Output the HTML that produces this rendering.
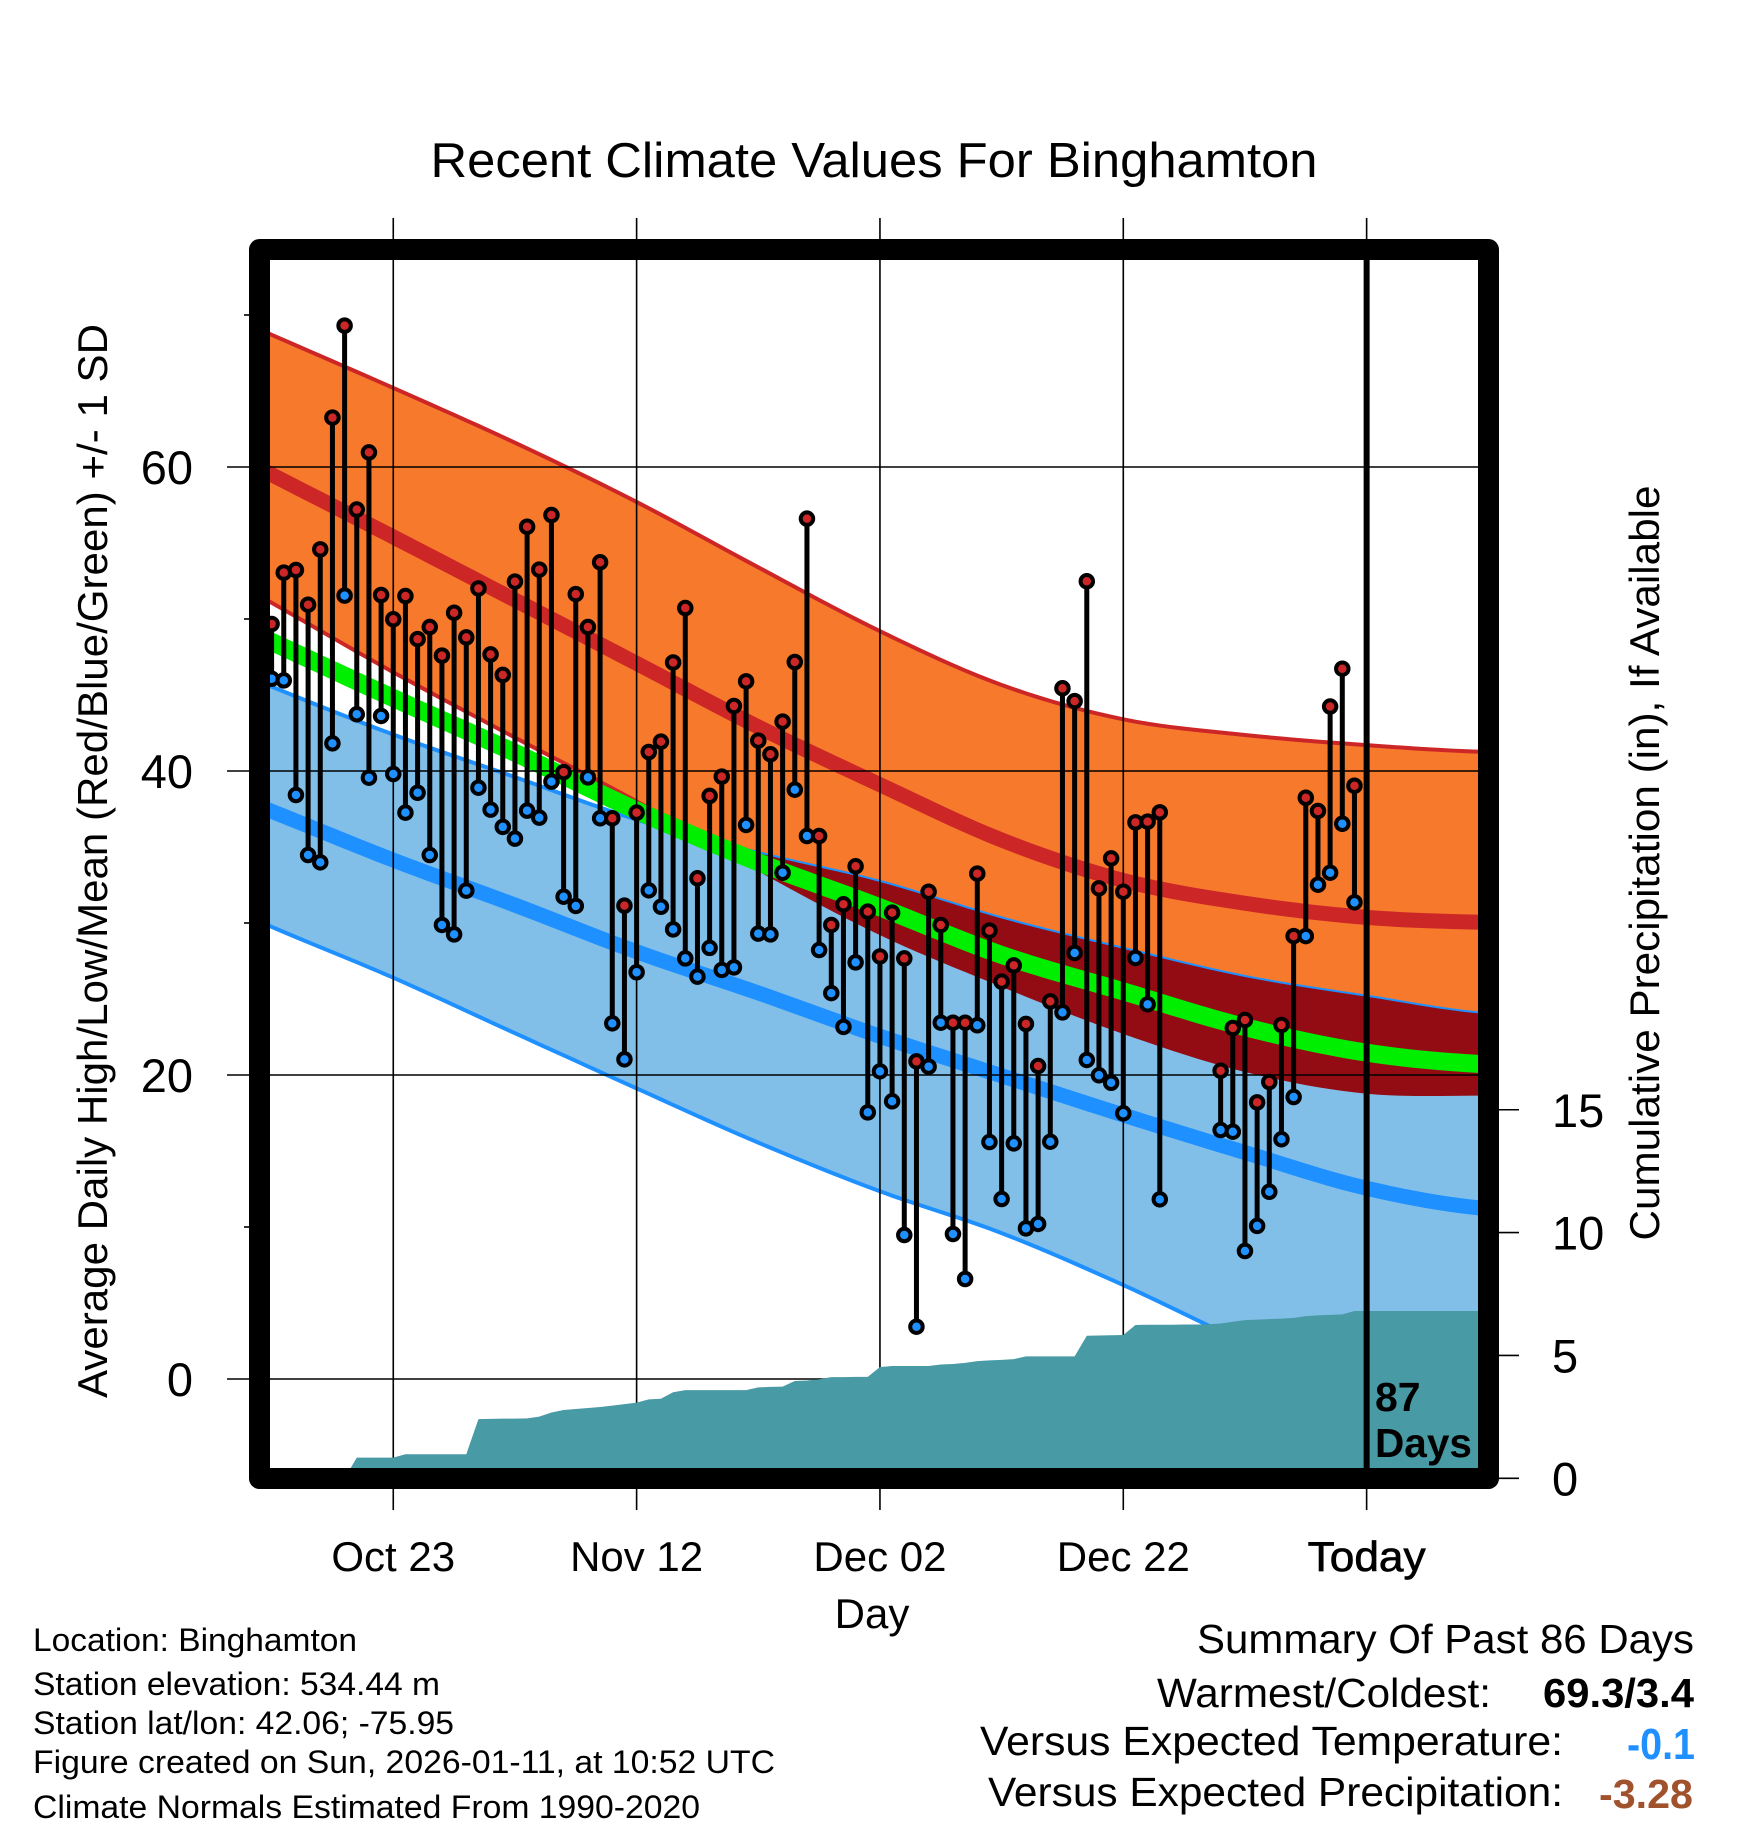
<!DOCTYPE html>
<html lang="en">
<head>
<meta charset="utf-8">
<title>Recent Climate Values For Binghamton</title>
<style>
html,body{margin:0;padding:0;background:#fff;}
svg{display:block;}
text{font-family:"Liberation Sans",Arial,sans-serif;fill:#000;}
</style>
</head>
<body>
<svg id="chart" xmlns="http://www.w3.org/2000/svg" width="1748" height="1828" viewBox="0 0 1748 1828">
<rect x="0" y="0" width="1748" height="1828" fill="#fff"/>
<defs>
<clipPath id="plot-clip"><rect x="270" y="260" width="1208" height="1208"/></clipPath>
<clipPath id="high-band-clip"><path id="high-band-clip-path" d=""/></clipPath>
</defs>
<g id="plot" clip-path="url(#plot-clip)"></g>
<g id="axes"></g>
<rect x="259.5" y="249.5" width="1229" height="1229" fill="none" stroke="#000" stroke-width="21" stroke-linejoin="round"/>

<text x="874" y="177" font-size="49" text-anchor="middle" textLength="887" lengthAdjust="spacingAndGlyphs">Recent Climate Values For Binghamton</text>
<text transform="translate(107,861) rotate(-90)" font-size="42" text-anchor="middle" textLength="1074" lengthAdjust="spacingAndGlyphs">Average Daily High/Low/Mean (Red/Blue/Green) +/- 1 SD</text>
<text transform="translate(1659,863) rotate(-90)" font-size="42" text-anchor="middle" textLength="755" lengthAdjust="spacingAndGlyphs">Cumulative Precipitation (in), If Available</text>
<text x="872" y="1628" font-size="42" text-anchor="middle">Day</text>

<text x="1375" y="1411" font-size="41" font-weight="bold">87</text>
<text x="1375" y="1457" font-size="41" font-weight="bold" textLength="97" lengthAdjust="spacingAndGlyphs">Days</text>

<text x="33" y="1651" font-size="32" textLength="324" lengthAdjust="spacingAndGlyphs">Location: Binghamton</text>
<text x="33" y="1695" font-size="32" textLength="407" lengthAdjust="spacingAndGlyphs">Station elevation: 534.44 m</text>
<text x="33" y="1734" font-size="32" textLength="421" lengthAdjust="spacingAndGlyphs">Station lat/lon: 42.06; -75.95</text>
<text x="33" y="1773" font-size="32" textLength="742" lengthAdjust="spacingAndGlyphs">Figure created on Sun, 2026-01-11, at 10:52 UTC</text>
<text x="33" y="1818" font-size="32" textLength="667" lengthAdjust="spacingAndGlyphs">Climate Normals Estimated From 1990-2020</text>

<text x="1197" y="1653" font-size="41" textLength="497" lengthAdjust="spacingAndGlyphs">Summary Of Past 86 Days</text>
<text x="1157" y="1707" font-size="41" textLength="334" lengthAdjust="spacingAndGlyphs">Warmest/Coldest:</text>
<text x="1543" y="1707" font-size="41" font-weight="bold" textLength="151" lengthAdjust="spacingAndGlyphs">69.3/3.4</text>
<text x="980" y="1755" font-size="41" textLength="583" lengthAdjust="spacingAndGlyphs">Versus Expected Temperature:</text>
<text x="1627" y="1759" font-size="44" font-weight="bold" style="fill:#1e90ff" textLength="68" lengthAdjust="spacingAndGlyphs">-0.1</text>
<text x="988" y="1806" font-size="41" textLength="575" lengthAdjust="spacingAndGlyphs">Versus Expected Precipitation:</text>
<text x="1599" y="1808" font-size="41" font-weight="bold" style="fill:#a0522d" textLength="94" lengthAdjust="spacingAndGlyphs">-3.28</text>
</svg>

<script>
// Observed daily values, by day index (null = missing day)
var dailyHighs = [49.67,53.05,53.22,50.94,54.58,63.25,69.3,57.2,60.96,51.58,49.98,51.51,48.68,49.47,47.59,50.41,48.79,52.01,47.67,46.32,52.46,56.07,53.25,56.84,39.93,51.64,49.47,53.73,36.89,31.14,37.26,41.25,41.93,47.14,50.72,32.94,38.36,39.63,44.28,45.9,42.0,41.1,43.25,47.17,56.6,35.72,29.87,31.23,33.73,30.75,27.8,30.68,27.67,20.9,32.06,29.87,23.44,23.44,33.25,29.5,26.14,27.21,23.36,20.59,24.84,45.44,44.6,52.48,32.28,34.25,32.06,36.62,36.67,37.28,null,null,null,null,20.28,23.09,23.62,18.2,19.54,23.29,29.14,38.24,37.37,44.24,46.73,39.03];
var dailyLows = [46.07,45.96,38.42,34.47,33.99,41.82,51.54,43.73,39.56,43.62,39.8,37.26,38.57,34.47,29.87,29.25,32.13,38.9,37.46,36.32,35.55,37.39,36.93,39.3,31.73,31.12,39.58,36.89,23.4,21.03,26.76,32.15,31.07,29.58,27.67,26.47,28.36,26.91,27.08,36.45,29.3,29.25,33.31,38.77,35.72,28.22,25.39,23.16,27.41,17.54,20.24,18.27,9.47,3.44,20.55,23.44,9.54,6.58,23.27,15.59,11.84,15.5,9.91,10.2,15.61,24.12,28.03,20.99,19.98,19.49,17.48,27.7,24.65,11.82,null,null,null,null,16.38,16.27,8.42,10.07,12.32,15.77,18.55,29.14,32.52,33.31,36.53,31.36];

// Cumulative precipitation (inches), by day index
var precipValues = [0,0,0,0,0,0,0,0.84,0.84,0.84,0.84,0.98,0.98,0.98,0.98,0.98,0.98,2.41,2.42,2.43,2.43,2.44,2.51,2.68,2.78,2.82,2.86,2.9,2.96,3.02,3.08,3.21,3.24,3.5,3.59,3.59,3.59,3.59,3.59,3.59,3.7,3.72,3.73,3.96,3.98,4.03,4.12,4.12,4.13,4.13,4.53,4.57,4.57,4.57,4.57,4.63,4.65,4.7,4.77,4.8,4.82,4.85,4.96,4.96,4.96,4.96,4.96,5.8,5.81,5.82,5.83,6.24,6.25,6.25,6.25,6.26,6.26,6.27,6.3,6.37,6.44,6.46,6.48,6.5,6.53,6.6,6.63,6.65,6.67,6.81,6.81,6.81,6.81,6.81,6.81,6.81,6.81,6.81,6.81,6.81,6.81];

// Climate normals, read at these day indices
var normalDays = [-10,0,10,20,30,40,50,60,70,80,90,100];
var highPlusSD = [72.2,68.7,65.2,61.6,57.7,53.4,49.2,45.66,43.4,42.37,41.7,41.25];
var highNormal = [63.6,59.5,55.4,51.25,47.08,42.9,39.1,35.46,32.8,31.3,30.37,30.04];
var highMinusSD = [55.6,51.07,46.5,42.2,38.0,33.4,29.2,25.8,22.7,20.2,18.77,18.64];
var meanNormal = [52.2,48.5,44.8,41.2,37.4,34.0,31.03,27.9,25.5,23.15,21.47,20.7];
var lowPlusSD = [48.9,45.55,42.4,39.6,36.8,34.6,32.7,30.3,28.3,26.45,25.15,24.0];
var lowNormal = [40.5,37.35,34.14,31.18,28.11,25.4,22.55,19.95,17.37,14.9,12.55,11.2];
var lowMinusSD = [33.3,29.75,26.4,22.75,19.12,15.55,12.35,9.6,6.18,2.4,-1,-4];

// Axis ticks
var xTickDays = [10,30,50,70,90];
var xTickLabels = ['Oct 23','Nov 12','Dec 02','Dec 22','Today'];
var yMajorTicks = [60,40,20,0];
var yMinorTicks = [70,50,30,10];
var precipTicks = [15,10,5,0];
var todayDay = 90;

// Scales
function xScale(d){ return 271.6 + 12.167*d; }
function yScale(t){ return 1379 - 15.2*t; }
function pScale(p){ return 1478.3 - 24.57*p; }

var NS = 'http://www.w3.org/2000/svg';
var plot = document.getElementById('plot');
var axes = document.getElementById('axes');

function mk(tag, attrs, parent){
  var el = document.createElementNS(NS, tag);
  for (var k in attrs) el.setAttribute(k, attrs[k]);
  parent.appendChild(el);
  return el;
}

// Catmull-Rom smoothing through the read values
function curvePoints(days, vals){
  var pts = [];
  var n = days.length;
  for (var i = 0; i < n-1; i++){
    var i0 = Math.max(i-1,0), i3 = Math.min(i+2,n-1);
    var steps = 10;
    for (var s = 0; s < steps; s++){
      var t = s/steps;
      var d = days[i] + (days[i+1]-days[i])*t;
      var a = vals[i0], b = vals[i], c = vals[i+1], e = vals[i3];
      var v = 0.5*((2*b)+(-a+c)*t+(2*a-5*b+4*c-e)*t*t+(-a+3*b-3*c+e)*t*t*t);
      pts.push([xScale(d), yScale(v)]);
    }
  }
  pts.push([xScale(days[n-1]), yScale(vals[n-1])]);
  return pts;
}
function toPath(pts){
  return pts.map(function(p,i){ return (i?'L':'M')+p[0].toFixed(2)+' '+p[1].toFixed(2); }).join('');
}
function bandPath(upper, lower){
  var u = curvePoints(normalDays, upper);
  var l = curvePoints(normalDays, lower).reverse();
  return toPath(u) + 'L' + toPath(l).slice(1) + 'Z';
}
function linePath(vals){ return toPath(curvePoints(normalDays, vals)); }

var highBand = bandPath(highPlusSD, highMinusSD);
var lowBand = bandPath(lowPlusSD, lowMinusSD);
document.getElementById('high-band-clip-path').setAttribute('d', highBand);

var el;
el = mk('path', {d: highBand, fill:'#f6792c'}, plot);



el = mk('path', {d: linePath(highPlusSD), fill:'none', stroke:'#cd2626', 'stroke-width':4}, plot);



el = mk('path', {d: linePath(highMinusSD), fill:'none', stroke:'#cd2626', 'stroke-width':4}, plot);



el = mk('path', {d: lowBand, fill:'#82bfe8'}, plot);



el = mk('path', {d: linePath(lowPlusSD), fill:'none', stroke:'#1e90ff', 'stroke-width':4}, plot);



el = mk('path', {d: linePath(lowMinusSD), fill:'none', stroke:'#1e90ff', 'stroke-width':4}, plot);



el = mk('path', {d: lowBand, fill:'#930c13', 'clip-path':'url(#high-band-clip)'}, plot);



el = mk('path', {d: linePath(highNormal), fill:'none', stroke:'#cd2626', 'stroke-width':15}, plot);



el = mk('path', {d: linePath(lowNormal), fill:'none', stroke:'#1e90ff', 'stroke-width':15}, plot);



el = mk('path', {d: linePath(meanNormal), fill:'none', stroke:'#00ee00', 'stroke-width':18}, plot);



// Grid lines inside the plot
yMajorTicks.forEach(function(t){
  var g = mk('line', {x1:270, x2:1478, y1:yScale(t), y2:yScale(t), stroke:'#000', 'stroke-width':1.6}, plot);
  
  
});
xTickDays.forEach(function(d){
  if (d === todayDay) return;
  var g = mk('line', {x1:xScale(d), x2:xScale(d), y1:260, y2:1468, stroke:'#000', 'stroke-width':1.6}, plot);
  
  
});

// Cumulative precipitation
var areaD = 'M' + xScale(0).toFixed(2) + ' ' + pScale(0).toFixed(2);
precipValues.forEach(function(p,i){
  areaD += 'L' + xScale(i).toFixed(2) + ' ' + pScale(p).toFixed(2);
});
areaD += 'L' + xScale(precipValues.length-1).toFixed(2) + ' ' + pScale(0).toFixed(2) + 'Z';
el = mk('path', {d: areaD, fill:'#489aa5'}, plot);



// Today line
el = mk('line', {x1:xScale(todayDay), x2:xScale(todayDay), y1:260, y2:1468, stroke:'#000', 'stroke-width':6}, plot);



// Daily stems and markers
dailyHighs.forEach(function(h,i){
  var l = dailyLows[i];
  if (h === null || l === null) return;
  var stem = mk('line', {x1:xScale(i), x2:xScale(i), y1:yScale(h), y2:yScale(l), stroke:'#000', 'stroke-width':5}, plot);
  
  
});
dailyHighs.forEach(function(h,i){
  var l = dailyLows[i];
  if (h === null || l === null) return;
  var lo = mk('circle', {cx:xScale(i), cy:yScale(l), r:6.25, fill:'#1e90ff', stroke:'#000', 'stroke-width':4}, plot);
  
  
  var hi = mk('circle', {cx:xScale(i), cy:yScale(h), r:6.25, fill:'#cd2626', stroke:'#000', 'stroke-width':4}, plot);
  
  
});

// Axes: ticks outside the frame and labels
yMajorTicks.forEach(function(t){
  var tick = mk('line', {x1:227, x2:250, y1:yScale(t), y2:yScale(t), stroke:'#000', 'stroke-width':1.6}, axes);
  
  
  var lab = mk('text', {x:193, y:yScale(t)+17, 'font-size':47, 'text-anchor':'end'}, axes);
  lab.textContent = String(t);
  
  
});
yMinorTicks.forEach(function(t){
  var tick = mk('line', {x1:244, x2:250, y1:yScale(t), y2:yScale(t), stroke:'#000', 'stroke-width':1.6}, axes);
  
  
});
precipTicks.forEach(function(p){
  var tick = mk('line', {x1:1498, x2:1519, y1:pScale(p), y2:pScale(p), stroke:'#000', 'stroke-width':1.6}, axes);
  
  
  var lab = mk('text', {x:1552, y:pScale(p)+17, 'font-size':47}, axes);
  lab.textContent = String(p);
  
  
});
xTickDays.forEach(function(d,i){
  var top = mk('line', {x1:xScale(d), x2:xScale(d), y1:218, y2:250, stroke:'#000', 'stroke-width':1.6}, axes);
  
  
  var bottom = mk('line', {x1:xScale(d), x2:xScale(d), y1:1488, y2:1510, stroke:'#000', 'stroke-width':1.6}, axes);
  
  
  var lab = mk('text', {x:xScale(d), y:1571, 'font-size':42, 'text-anchor':'middle'}, axes);
  lab.textContent = xTickLabels[i];
  if (d === todayDay) {
    lab.setAttribute('stroke', '#000');
    lab.setAttribute('stroke-width', '0.7');
    lab.setAttribute('textLength', '118');
    lab.setAttribute('lengthAdjust', 'spacingAndGlyphs');
  }
  
  
});
</script>
</body>
</html>
